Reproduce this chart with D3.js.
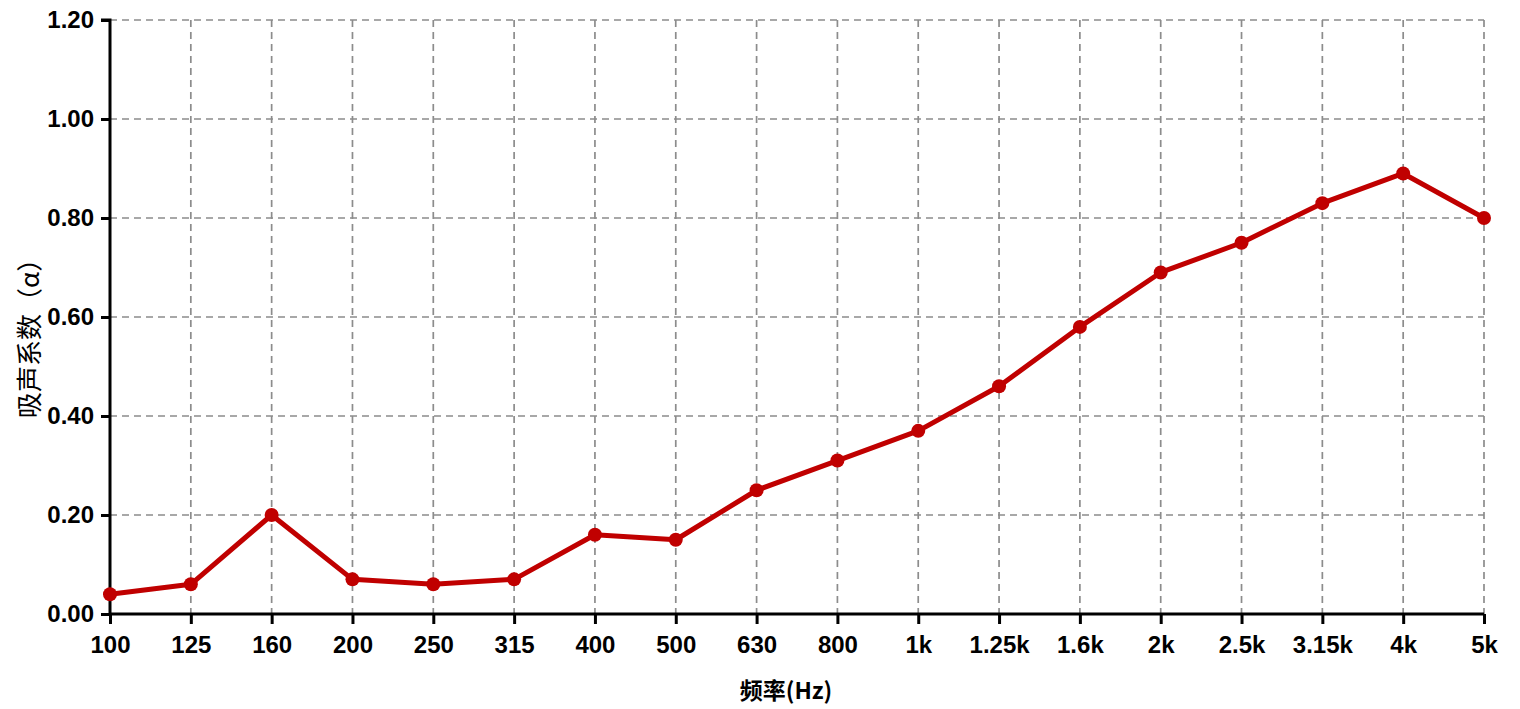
<!DOCTYPE html>
<html><head><meta charset="utf-8">
<script src="https://cdn.jsdelivr.net/npm/d3@7"></script>
<style>
html,body{margin:0;padding:0;background:#fff;}
svg{display:block;}
</style>
</head><body>
<svg id="chart" width="1520" height="709"></svg>
<script>
const categories = ["100","125","160","200","250","315","400","500","630","800","1k","1.25k","1.6k","2k","2.5k","3.15k","4k","5k"];
const values = [0.04,0.06,0.20,0.07,0.06,0.07,0.16,0.15,0.25,0.31,0.37,0.46,0.58,0.69,0.75,0.83,0.89,0.80];
const yTicks = [0,0.2,0.4,0.6,0.8,1.0,1.2];
const xTitle = "频率(Hz)";
const yTitle = "吸声系数（α）";

(function(){
const svg = d3.select("#chart");
const mLeft = 110, mRight = 1484, mTop = 20, mBottom = 614;
const x = d3.scalePoint().domain(categories).range([mLeft, mRight]);
const y = d3.scaleLinear().domain([0, 1.2]).range([mBottom, mTop]);
const font = "Arial, 'Liberation Sans', sans-serif";

// grid
const grid = svg.append("g");
grid.selectAll("line.h").data(yTicks.filter(d => d > 0)).join("line")
  .attr("x1", mLeft).attr("x2", mRight).attr("y1", d => y(d)).attr("y2", d => y(d))
  .attr("stroke", "#8c8c8c").attr("stroke-width", 1.7).attr("stroke-dasharray", "7,5");
grid.selectAll("line.v").data(categories.slice(1)).join("line")
  .attr("x1", d => x(d)).attr("x2", d => x(d)).attr("y1", mTop).attr("y2", mBottom)
  .attr("stroke", "#8c8c8c").attr("stroke-width", 1.7).attr("stroke-dasharray", "7,5");

// axes
const yAxis = svg.append("g").attr("transform", `translate(${mLeft},0)`)
  .call(d3.axisLeft(y).tickValues(yTicks).tickFormat(d3.format(".2f")).tickSize(9).tickPadding(7));
const xAxis = svg.append("g").attr("transform", `translate(0,${mBottom})`)
  .call(d3.axisBottom(x).tickSize(10).tickPadding(12));
[yAxis, xAxis].forEach(a => {
  a.select(".domain").attr("stroke", "#000").attr("stroke-width", 3);
  a.selectAll(".tick line").attr("stroke", "#000").attr("stroke-width", 3);
  a.selectAll(".tick text").attr("fill", "#000").style("font-family", font)
    .style("font-size", "24px").style("font-weight", "bold");
});
yAxis.select(".domain").attr("d", `M-9,${mTop}H0V${mBottom}`);
xAxis.select(".domain").attr("d", `M${mLeft},0H${mRight}`);

// line
const line = d3.line().x((d, i) => x(categories[i])).y(d => y(d));
svg.append("path").datum(values).attr("d", line)
  .attr("fill", "none").attr("stroke", "#c00000").attr("stroke-width", 5)
  .attr("stroke-linejoin", "round");
svg.selectAll("circle.pt").data(values).join("circle")
  .attr("cx", (d, i) => x(categories[i])).attr("cy", d => y(d)).attr("r", 7)
  .attr("fill", "#c00000");

// titles
svg.append("text").attr("x", 786).attr("y", 699).attr("text-anchor", "middle")
  .style("font-family", "'Noto Sans CJK SC', sans-serif").style("font-size", "23px").style("font-weight", "bold")
  .attr("fill", "#000").text(xTitle);
svg.append("text").attr("transform", "translate(39,332) rotate(-90)").attr("text-anchor", "middle")
  .style("font-family", "'Noto Sans CJK SC', sans-serif").style("font-size", "26px")
  .attr("fill", "#000").text(yTitle);
})();
</script>
</body></html>
